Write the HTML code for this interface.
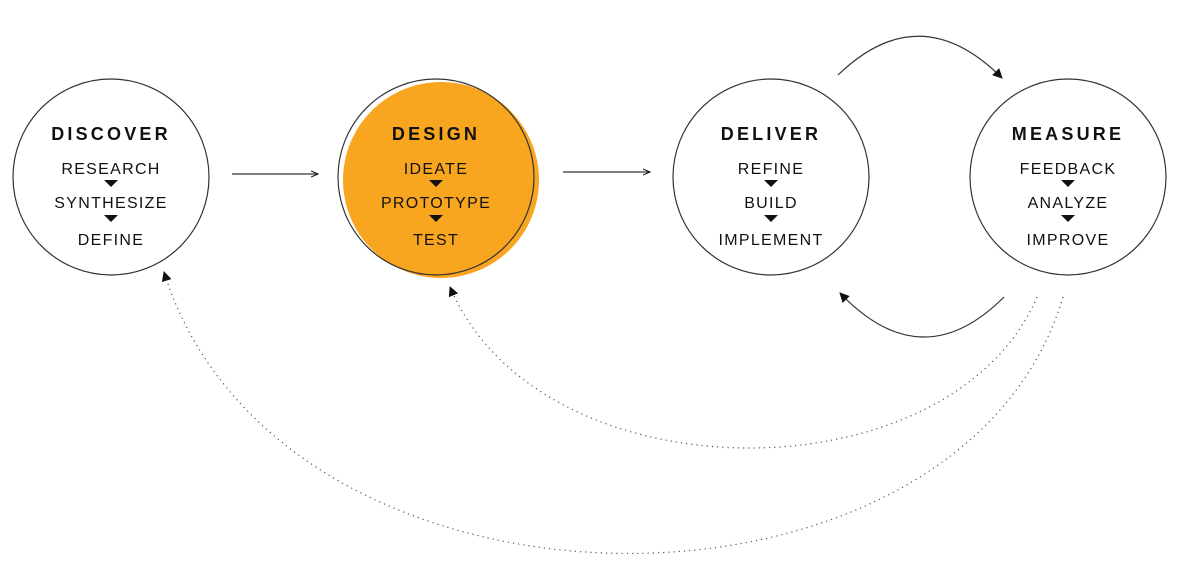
<!DOCTYPE html>
<html><head><meta charset="utf-8"><style>
html,body{margin:0;padding:0;background:#fff;}
svg{display:block;}
.t{font-family:"Liberation Sans",sans-serif;font-weight:bold;font-size:18px;letter-spacing:3.2px;fill:#111;text-anchor:middle;}
.i{font-family:"Liberation Sans",sans-serif;font-size:16px;letter-spacing:1.3px;fill:#111;text-anchor:middle;}
</style></head><body>
<svg width="1200" height="577" viewBox="0 0 1200 577" xmlns="http://www.w3.org/2000/svg">
<defs>
<marker id="a" markerWidth="10" markerHeight="10" refX="9" refY="5" orient="auto" markerUnits="userSpaceOnUse"><path d="M0,0 L10,5 L0,10 z" fill="#111"/></marker>
<marker id="s" markerWidth="8" markerHeight="8" refX="7" refY="4" orient="auto" markerUnits="userSpaceOnUse"><path d="M0,1 L7,4 L0,7" fill="none" stroke="#111" stroke-width="1"/></marker>
</defs>
<circle cx="111" cy="177" r="98" fill="none" stroke="#333" stroke-width="1.2"/>
<circle cx="441" cy="180" r="98" fill="#f8a51f"/>
<circle cx="436" cy="177" r="98" fill="none" stroke="#333" stroke-width="1.2"/>
<circle cx="771" cy="177" r="98" fill="none" stroke="#333" stroke-width="1.2"/>
<circle cx="1068" cy="177" r="98" fill="none" stroke="#333" stroke-width="1.2"/>

<g>
<text class="t" x="111" y="140">DISCOVER</text>
<text class="i" x="111" y="174">RESEARCH</text>
<text class="i" x="111" y="208">SYNTHESIZE</text>
<text class="i" x="111" y="245">DEFINE</text>
<path d="M104,180 L118,180 L111,187 z" fill="#111"/><path d="M104,215 L118,215 L111,222 z" fill="#111"/>
</g>
<g>
<text class="t" x="436" y="140">DESIGN</text>
<text class="i" x="436" y="174">IDEATE</text>
<text class="i" x="436" y="208">PROTOTYPE</text>
<text class="i" x="436" y="245">TEST</text>
<path d="M429,180 L443,180 L436,187 z" fill="#111"/><path d="M429,215 L443,215 L436,222 z" fill="#111"/>
</g>
<g>
<text class="t" x="771" y="140">DELIVER</text>
<text class="i" x="771" y="174">REFINE</text>
<text class="i" x="771" y="208">BUILD</text>
<text class="i" x="771" y="245">IMPLEMENT</text>
<path d="M764,180 L778,180 L771,187 z" fill="#111"/><path d="M764,215 L778,215 L771,222 z" fill="#111"/>
</g>
<g>
<text class="t" x="1068" y="140">MEASURE</text>
<text class="i" x="1068" y="174">FEEDBACK</text>
<text class="i" x="1068" y="208">ANALYZE</text>
<text class="i" x="1068" y="245">IMPROVE</text>
<path d="M1061,180 L1075,180 L1068,187 z" fill="#111"/><path d="M1061,215 L1075,215 L1068,222 z" fill="#111"/>
</g>

<line x1="232" y1="174" x2="318" y2="174" stroke="#333" stroke-width="1.3" marker-end="url(#s)"/>
<line x1="563" y1="172" x2="650" y2="172" stroke="#333" stroke-width="1.3" marker-end="url(#s)"/>

<path d="M838,75 Q920,-4 1002,78" fill="none" stroke="#333" stroke-width="1.2" marker-end="url(#a)"/>
<path d="M1004,297 Q922,379 840,293" fill="none" stroke="#333" stroke-width="1.2" marker-end="url(#a)"/>

<path d="M1037,297 C950,500 540,500 450,287" fill="none" stroke="#555" stroke-width="1.2" stroke-dasharray="1.2 4" marker-end="url(#a)"/>
<path d="M1063,297 C960,643 280,643 164,272" fill="none" stroke="#555" stroke-width="1.2" stroke-dasharray="1.2 4" marker-end="url(#a)"/>
</svg>
</body></html>
